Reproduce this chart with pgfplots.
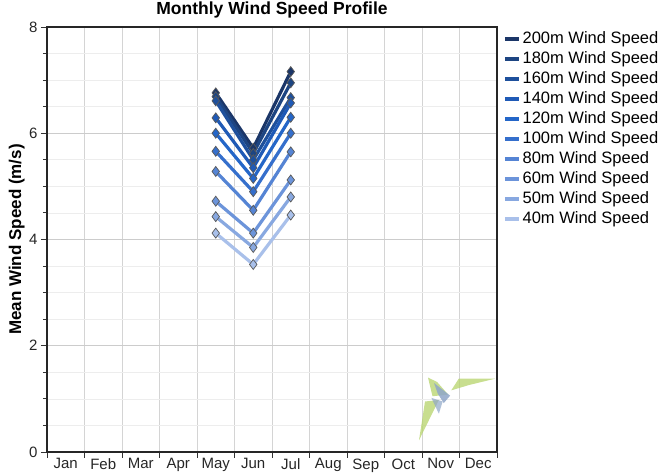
\documentclass[border=0pt]{standalone}
\usepackage{fontspec}
\setmainfont{Liberation Sans}
\usepackage{pgfplots}
\pgfplotsset{compat=1.18}

\definecolor{h200}{HTML}{1B3668}
\definecolor{h180}{HTML}{1D4582}
\definecolor{h160}{HTML}{1E509C}
\definecolor{h140}{HTML}{1F5AB6}
\definecolor{h120}{HTML}{2466C8}
\definecolor{h100}{HTML}{356FCC}
\definecolor{h80}{HTML}{5584D4}
\definecolor{h60}{HTML}{6C94DA}
\definecolor{h50}{HTML}{88A8E0}
\definecolor{h40}{HTML}{A9C0EA}
\definecolor{logogreen}{HTML}{B5D36A}
\definecolor{logoblue}{HTML}{8FA6C8}

\pgfplotsset{
  wind/.style={color=#1, line width=3.2pt, mark=diamond*,
    mark size=5pt, mark options={fill=#1, draw=black!65, line width=0.7pt}},
}

\begin{document}
\begin{tikzpicture}
\begin{axis}[
    at={(0pt,0pt)}, anchor=south west,
    scale only axis,
    width=450pt, height=425pt,
    xmin=0.5, xmax=12.5,
    ymin=0, ymax=8,
    xtick={0.5,1.5,...,12.5},
    xticklabels={},
    extra x ticks={1,...,12},
    extra x tick labels={Jan,Feb,Mar,Apr,May,Jun,Jul,Aug,Sep,Oct,Nov,Dec},
    extra x tick style={grid=none, tick style={draw=none}},
    ytick={0,2,4,6,8},
    minor ytick={0.5,1,...,7.5},
    xtick pos=bottom, ytick pos=left,
    tick align=outside,
    major tick length=6pt,
    minor tick length=4pt,
    tick style={black!80, line width=0.9pt},
    xmajorgrids=true,
    ymajorgrids=true, yminorgrids=true,
    major x grid style={black!17, line width=0.9pt},
    major y grid style={black!20, line width=0.9pt},
    minor y grid style={black!7, line width=0.7pt},
    axis line style={black!85, line width=1.4pt},
    /pgf/number format/assume math mode=true,
    xticklabel style={font=\fontsize{15}{17}\selectfont, text=black!85, yshift=3pt},
    yticklabel style={font=\fontsize{15}{17}\selectfont, text=black!85},
    title={\textbf{Monthly Wind Speed Profile}},
    title style={font=\fontsize{17.5}{20}\selectfont, at={(axis description cs:0.5,1)}, anchor=south, yshift=2pt, inner sep=1pt},
    ylabel={\textbf{Mean Wind Speed (m/s)}},
    ylabel style={font=\fontsize{17}{20}\selectfont, at={(axis description cs:-0.067,0.5)}, anchor=center},
    legend cell align=left,
    legend style={at={(1,1)}, anchor=north west, xshift=3pt, yshift=-1pt,
      draw=none, fill=none, font=\fontsize{16.5}{19}\selectfont,
      row sep=2pt,
      nodes={text height=11pt, text depth=3pt, inner sep=2pt}},
    legend image code/.code={\draw[line width=3.4pt] (0pt,0pt) -- (14pt,0pt);},
    clip=false,
]
% watermark logo
\fill[logogreen, opacity=0.75] (axis cs:10.42,0.22) -- (axis cs:10.58,0.95) -- (axis cs:10.95,0.98) -- cycle;
\fill[logogreen, opacity=0.75] (axis cs:10.66,1.40) -- (axis cs:10.9,1.32) -- (axis cs:11.2,1.08) -- (axis cs:10.78,1.05) -- cycle;
\fill[logoblue, opacity=0.85] (axis cs:10.82,1.30) -- (axis cs:11.25,1.06) -- (axis cs:11.08,0.92) -- (axis cs:10.92,1.10) -- cycle;
\fill[logoblue, opacity=0.7] (axis cs:10.75,1.02) -- (axis cs:10.95,0.72) -- (axis cs:11.05,0.95) -- cycle;
\fill[logogreen, opacity=0.75] (axis cs:11.28,1.16) -- (axis cs:11.48,1.38) -- (axis cs:12.45,1.38) -- (axis cs:11.75,1.26) -- cycle;

\addplot[wind=h200] coordinates {(5,6.76) (6,5.72) (7,7.16)};
\addplot[wind=h180] coordinates {(5,6.69) (6,5.62) (7,6.95)};
\addplot[wind=h160] coordinates {(5,6.61) (6,5.50) (7,6.67)};
\addplot[wind=h140] coordinates {(5,6.29) (6,5.35) (7,6.57)};
\addplot[wind=h120] coordinates {(5,6.00) (6,5.15) (7,6.30)};
\addplot[wind=h100] coordinates {(5,5.66) (6,4.90) (7,6.00)};
\addplot[wind=h80]  coordinates {(5,5.28) (6,4.55) (7,5.65)};
\addplot[wind=h60]  coordinates {(5,4.72) (6,4.12) (7,5.12)};
\addplot[wind=h50]  coordinates {(5,4.43) (6,3.85) (7,4.80)};
\addplot[wind=h40]  coordinates {(5,4.12) (6,3.53) (7,4.46)};
\legend{200m Wind Speed, 180m Wind Speed, 160m Wind Speed, 140m Wind Speed,
        120m Wind Speed, 100m Wind Speed, 80m Wind Speed, 60m Wind Speed,
        50m Wind Speed, 40m Wind Speed}
\end{axis}
\pgfresetboundingbox
\path[use as bounding box] (-47pt,-24pt) rectangle (618pt,452pt);
\end{tikzpicture}
\end{document}
